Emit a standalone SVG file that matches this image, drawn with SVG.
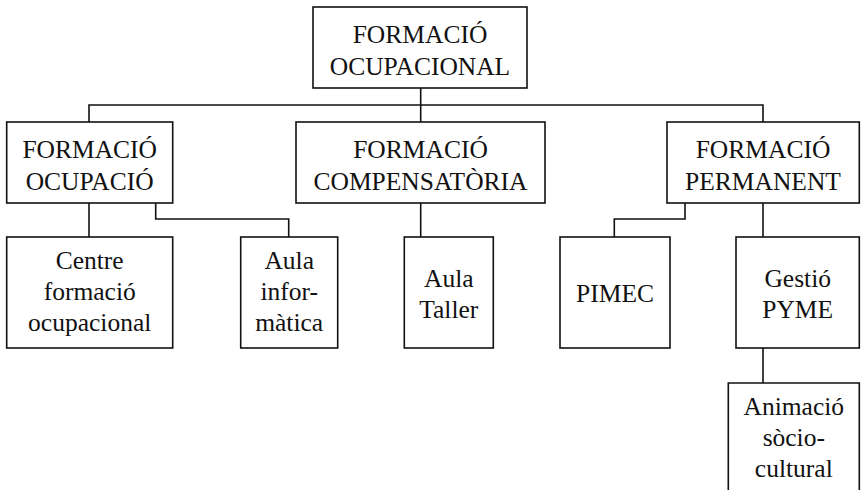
<svg xmlns="http://www.w3.org/2000/svg" width="862" height="490" viewBox="0 0 862 490">
<style>
.box{fill:#fff;stroke:#111;stroke-width:1.6}
.open{fill:none;stroke:#111;stroke-width:1.6}
.conn{fill:none;stroke:#111;stroke-width:1.6}
.t{font-family:'Liberation Serif','Times New Roman',Times,Tinos,'Nimbus Roman','Nimbus Roman No9 L',FreeSerif,'Noto Serif','DejaVu Serif',Georgia,serif;font-size:25.5px;fill:#111;text-anchor:middle}
</style>
<rect width="862" height="490" fill="#fff"/>
<g id="connectors">
<path class="conn" d="M420.7,88 V122"/>
<path class="conn" d="M89,122 V105 H763 V122"/>
<path class="conn" d="M89,203 V237"/>
<path class="conn" d="M155.7,203 V219 H288.7 V237"/>
<path class="conn" d="M420.7,203 V237"/>
<path class="conn" d="M685,203 V219 H614.3 V237"/>
<path class="conn" d="M763,203 V237"/>
<path class="conn" d="M763,348 V383"/>
</g>
<g id="n-formacio-ocupacional" class="t">
<rect class="box" x="313" y="7" width="214" height="81"/>
<text x="420" y="43">FORMACIÓ</text>
<text x="420" y="75">OCUPACIONAL</text>
</g>
<g id="n-formacio-ocupacio" class="t">
<rect class="box" x="6.7" y="122" width="166" height="81"/>
<text x="89.7" y="158">FORMACIÓ</text>
<text x="89.7" y="190">OCUPACIÓ</text>
</g>
<g id="n-formacio-compensatoria" class="t">
<rect class="box" x="296" y="122" width="249" height="81"/>
<text x="420.5" y="158">FORMACIÓ</text>
<text x="420.5" y="190">COMPENSATÒRIA</text>
</g>
<g id="n-formacio-permanent" class="t">
<rect class="box" x="667" y="122" width="192.3" height="81"/>
<text x="763" y="158">FORMACIÓ</text>
<text x="763" y="190">PERMANENT</text>
</g>
<g id="n-centre" class="t">
<rect class="box" x="6.7" y="237" width="166" height="111"/>
<text x="89.7" y="269">Centre</text>
<text x="89.7" y="300">formació</text>
<text x="89.7" y="331">ocupacional</text>
</g>
<g id="n-aula-informatica" class="t">
<rect class="box" x="240.7" y="237" width="97" height="111"/>
<text x="289.2" y="269">Aula</text>
<text x="289.2" y="300">infor-</text>
<text x="289.2" y="331">màtica</text>
</g>
<g id="n-aula-taller" class="t">
<rect class="box" x="404.3" y="237" width="89" height="111"/>
<text x="448.8" y="287">Aula</text>
<text x="448.8" y="318">Taller</text>
</g>
<g id="n-pimec" class="t">
<rect class="box" x="560" y="237" width="110" height="111"/>
<text x="615" y="302">PIMEC</text>
</g>
<g id="n-gestio-pyme" class="t">
<rect class="box" x="736" y="237" width="123.3" height="111"/>
<text x="797.7" y="287">Gestió</text>
<text x="797.7" y="318">PYME</text>
</g>
<g id="n-animacio" class="t">
<path class="open" d="M728.3,491 V383 H859.3 V491"/>
<text x="793.8" y="415">Animació</text>
<text x="793.8" y="446">sòcio-</text>
<text x="793.8" y="477">cultural</text>
</g>
</svg>
